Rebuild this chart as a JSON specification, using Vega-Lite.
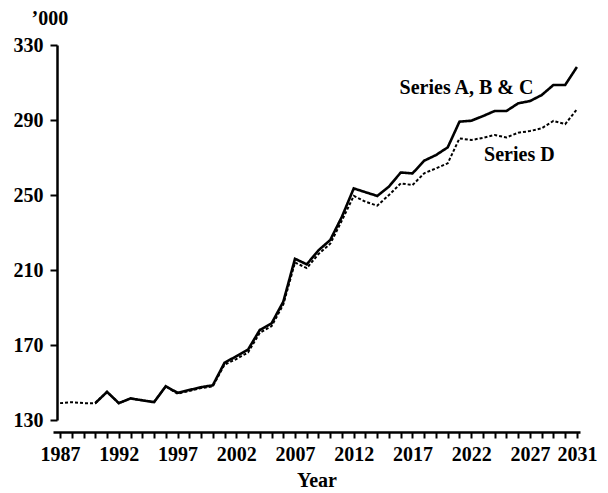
{
  "$schema": "https://vega.github.io/schema/vega-lite/v6.json",
  "width": 527,
  "height": 375,
  "autosize": {"type": "none"},
  "padding": {"left": 53, "top": 45, "right": 28, "bottom": 73},
  "background": "white",
  "config": {
    "view": {"stroke": null},
    "font": "Liberation Serif",
    "axis": {"labelFont": "Liberation Serif", "titleFont": "Liberation Serif", "labelColor": "black", "titleColor": "black", "domainColor": "black", "tickColor": "black", "grid": false}
  },
  "resolve": {"axis": {"x": "independent"}},
  "datasets": {
    "series": [
      {"year": 1990, "series": "A", "value": 139},
      {"year": 1991, "series": "A", "value": 145},
      {"year": 1992, "series": "A", "value": 139},
      {"year": 1993, "series": "A", "value": 141.5},
      {"year": 1994, "series": "A", "value": 140.5},
      {"year": 1995, "series": "A", "value": 139.5},
      {"year": 1996, "series": "A", "value": 148},
      {"year": 1997, "series": "A", "value": 144.5},
      {"year": 1998, "series": "A", "value": 146},
      {"year": 1999, "series": "A", "value": 147.5},
      {"year": 2000, "series": "A", "value": 148.5},
      {"year": 2001, "series": "A", "value": 160.5},
      {"year": 2002, "series": "A", "value": 164},
      {"year": 2003, "series": "A", "value": 167.5},
      {"year": 2004, "series": "A", "value": 178},
      {"year": 2005, "series": "A", "value": 181.5},
      {"year": 2006, "series": "A", "value": 193},
      {"year": 2007, "series": "A", "value": 216},
      {"year": 2008, "series": "A", "value": 213},
      {"year": 2009, "series": "A", "value": 220.5},
      {"year": 2010, "series": "A", "value": 226},
      {"year": 2011, "series": "A", "value": 238.5},
      {"year": 2012, "series": "A", "value": 253.5},
      {"year": 2013, "series": "A", "value": 251.5},
      {"year": 2014, "series": "A", "value": 249.5},
      {"year": 2015, "series": "A", "value": 254.5},
      {"year": 2016, "series": "A", "value": 262},
      {"year": 2017, "series": "A", "value": 261.5},
      {"year": 2018, "series": "A", "value": 268.3},
      {"year": 2019, "series": "A", "value": 271.3},
      {"year": 2020, "series": "A", "value": 275.4},
      {"year": 2021, "series": "A", "value": 289.1},
      {"year": 2022, "series": "A", "value": 289.6},
      {"year": 2023, "series": "A", "value": 292.1},
      {"year": 2024, "series": "A", "value": 294.8},
      {"year": 2025, "series": "A", "value": 294.8},
      {"year": 2026, "series": "A", "value": 298.9},
      {"year": 2027, "series": "A", "value": 300.1},
      {"year": 2028, "series": "A", "value": 303.3},
      {"year": 2029, "series": "A", "value": 308.7},
      {"year": 2030, "series": "A", "value": 308.7},
      {"year": 2031, "series": "A", "value": 318.3},
      {"year": 1987, "series": "D", "value": 139},
      {"year": 1988, "series": "D", "value": 139.5},
      {"year": 1989, "series": "D", "value": 139},
      {"year": 1990, "series": "D", "value": 139},
      {"year": 1991, "series": "D", "value": 145},
      {"year": 1992, "series": "D", "value": 139},
      {"year": 1993, "series": "D", "value": 141.5},
      {"year": 1994, "series": "D", "value": 140.5},
      {"year": 1995, "series": "D", "value": 139.5},
      {"year": 1996, "series": "D", "value": 148},
      {"year": 1997, "series": "D", "value": 144},
      {"year": 1998, "series": "D", "value": 145.5},
      {"year": 1999, "series": "D", "value": 147},
      {"year": 2000, "series": "D", "value": 148},
      {"year": 2001, "series": "D", "value": 159.5},
      {"year": 2002, "series": "D", "value": 162.5},
      {"year": 2003, "series": "D", "value": 166},
      {"year": 2004, "series": "D", "value": 176.5},
      {"year": 2005, "series": "D", "value": 180},
      {"year": 2006, "series": "D", "value": 191.5},
      {"year": 2007, "series": "D", "value": 214},
      {"year": 2008, "series": "D", "value": 211},
      {"year": 2009, "series": "D", "value": 218.5},
      {"year": 2010, "series": "D", "value": 224},
      {"year": 2011, "series": "D", "value": 236.5},
      {"year": 2012, "series": "D", "value": 249.5},
      {"year": 2013, "series": "D", "value": 246.4},
      {"year": 2014, "series": "D", "value": 244.3},
      {"year": 2015, "series": "D", "value": 250},
      {"year": 2016, "series": "D", "value": 256.2},
      {"year": 2017, "series": "D", "value": 255.3},
      {"year": 2018, "series": "D", "value": 261.6},
      {"year": 2019, "series": "D", "value": 264.2},
      {"year": 2020, "series": "D", "value": 266.9},
      {"year": 2021, "series": "D", "value": 280.2},
      {"year": 2022, "series": "D", "value": 279.3},
      {"year": 2023, "series": "D", "value": 280.5},
      {"year": 2024, "series": "D", "value": 282},
      {"year": 2025, "series": "D", "value": 280.7},
      {"year": 2026, "series": "D", "value": 283.2},
      {"year": 2027, "series": "D", "value": 284.1},
      {"year": 2028, "series": "D", "value": 285.6},
      {"year": 2029, "series": "D", "value": 289.5},
      {"year": 2030, "series": "D", "value": 287.8},
      {"year": 2031, "series": "D", "value": 295.7}
    ],
    "labels": [
      {"label": "Series A, B & C", "year": 2021.6, "value": 307},
      {"label": "Series D", "year": 2026.1, "value": 271.3}
    ]
  },
  "layer": [
    {
      "data": {"name": "series"},
      "mark": {"type": "line", "color": "black", "strokeCap": "butt", "strokeJoin": "miter"},
      "encoding": {
        "x": {
          "field": "year", "type": "quantitative",
          "scale": {"domain": [1986.4, 2031.26], "nice": false, "zero": false},
          "axis": {
            "orient": "bottom", "title": null, "labels": false,
            "values": [1987,1988,1989,1990,1991,1992,1993,1994,1995,1996,1997,1998,1999,2000,2001,2002,2003,2004,2005,2006,2007,2008,2009,2010,2011,2012,2013,2014,2015,2016,2017,2018,2019,2020,2021,2022,2023,2024,2025,2026,2027,2028,2029,2030,2031],
            "offset": 12, "domainWidth": 2.5, "tickWidth": 2, "tickSize": 6
          }
        },
        "y": {
          "field": "value", "type": "quantitative",
          "scale": {"domain": [130, 330], "nice": false, "zero": false},
          "axis": {
            "title": "’000", "titleAngle": 0, "titleAlign": "left", "titleBaseline": "middle",
            "titleX": -26, "titleY": -27, "titleFontSize": 20, "titleFontWeight": "bold",
            "values": [130,150,170,190,210,230,250,270,290,310,330],
            "labelExpr": "((datum.value - 130) % 40 == 0) ? toString(datum.value) : ''",
            "labelFontSize": 20, "labelFontWeight": "bold", "labelPadding": 7, "labelOverlap": false,
            "offset": -4, "domainWidth": 2.5, "tickWidth": 2, "tickSize": 7
          }
        },
        "strokeDash": {
          "field": "series", "type": "nominal", "legend": null,
          "scale": {"domain": ["A", "D"], "range": [[1, 0], [3, 2]]}
        },
        "strokeWidth": {
          "field": "series", "type": "nominal", "legend": null,
          "scale": {"domain": ["A", "D"], "range": [2.6, 2]}
        },
        "detail": {"field": "series"}
      }
    },
    {
      "data": {"name": "labels"},
      "mark": {"type": "text", "font": "Liberation Serif", "fontSize": 20, "fontWeight": "bold", "color": "black", "align": "center", "baseline": "middle"},
      "encoding": {
        "x": {
          "field": "year", "type": "quantitative",
          "scale": {"domain": [1986.4, 2031.26], "nice": false, "zero": false},
          "axis": {
            "orient": "bottom", "title": "Year", "titleFontSize": 20, "titleFontWeight": "bold", "titlePadding": 6,
            "values": [1987, 1992, 1997, 2002, 2007, 2012, 2017, 2022, 2027, 2031],
            "format": "d",
            "labelFontSize": 20, "labelFontWeight": "bold", "labelPadding": 6, "labelOverlap": false, "labelFlush": false,
            "offset": 12, "domain": false, "tickOpacity": 0, "tickSize": 6
          }
        },
        "y": {"field": "value", "type": "quantitative"},
        "text": {"field": "label"}
      }
    }
  ]
}
